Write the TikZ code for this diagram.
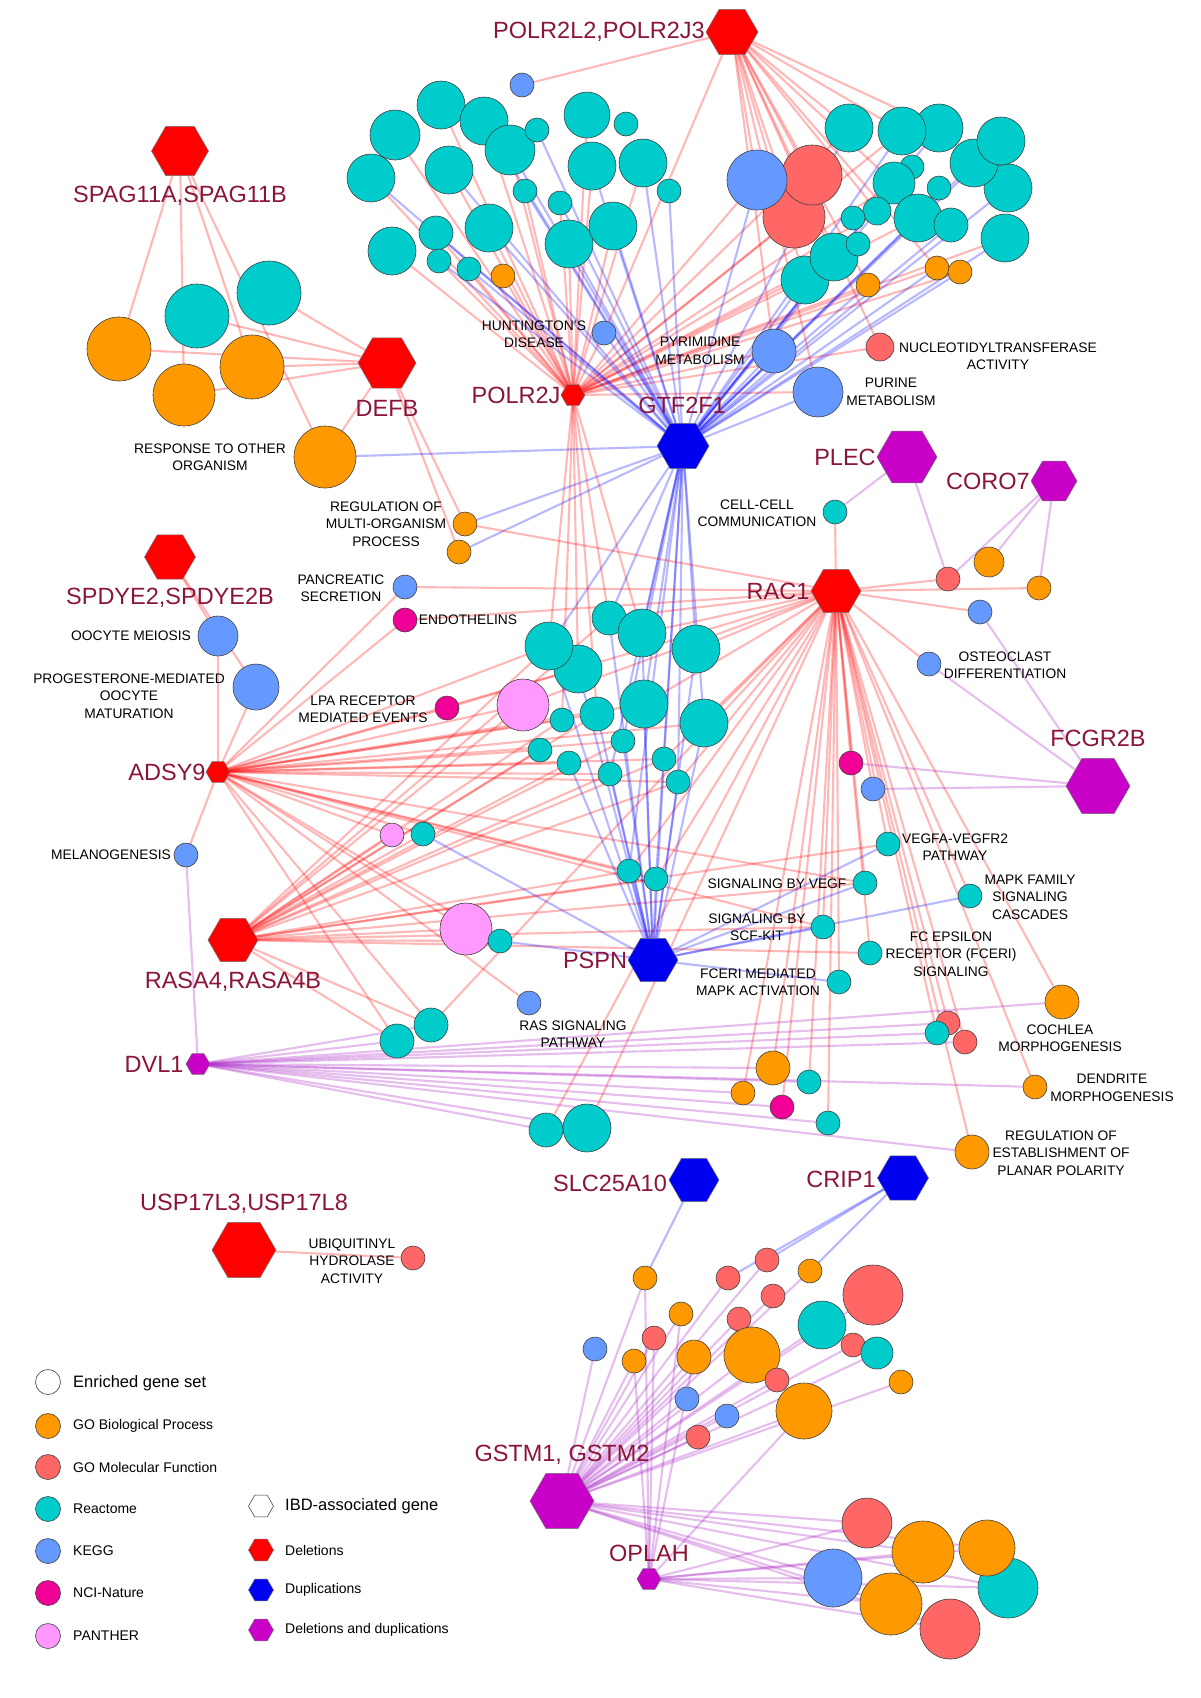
\documentclass[tikz,border=0pt]{standalone}
\usepackage{fontspec}
\setmainfont{Liberation Sans}
\usetikzlibrary{shapes.geometric}
\pgfdeclarelayer{edgelayer}
\pgfsetlayers{edgelayer,main}
\definecolor{cteal}{RGB}{0,204,204}
\definecolor{corange}{RGB}{255,153,0}
\definecolor{csalmon}{RGB}{255,102,102}
\definecolor{ckegg}{RGB}{102,153,255}
\definecolor{cnci}{RGB}{240,0,150}
\definecolor{cpanther}{RGB}{255,153,255}
\definecolor{hred}{RGB}{255,0,0}
\definecolor{hblue}{RGB}{0,0,240}
\definecolor{hpurple}{RGB}{200,0,200}
\definecolor{glab}{RGB}{139,21,56}
\definecolor{epurple}{RGB}{170,40,200}
\tikzset{
 gset/.style={circle, draw=black!75, line width=0.6pt, inner sep=0pt, outer sep=0pt},
 gene/.style={regular polygon, regular polygon sides=6, draw=black!55, line width=0.5pt, inner sep=0pt, outer sep=0pt},
 glabel/.style={text=glab, font=\fontsize{23.5}{26}\selectfont, inner sep=0pt},
 ann/.style={font=\fontsize{13.8}{17.5}\selectfont, align=center, inner sep=0pt},
 legs/.style={font=\fontsize{14}{16}\selectfont, anchor=west, inner sep=0pt},
 legb/.style={font=\fontsize{16.5}{18}\selectfont, anchor=west, inner sep=0pt},
 redge/.style={draw=red, opacity=0.28, line width=2.1pt},
 bedge/.style={draw=blue, opacity=0.28, line width=2.1pt},
 pedge/.style={draw=epurple, opacity=0.3, line width=2.1pt},
}
\newcommand{\gsnode}[5]{\node[gset, fill=#5, minimum size=#4*2pt] (#1) at (#2,#3) {};}
\newcommand{\genenode}[5]{\node[gene, fill=#5, minimum size=#4*2pt] (#1) at (#2,#3) {};}
\begin{document}
\begin{tikzpicture}[x=1pt,y=-1pt]
\useasboundingbox (0,0) rectangle (1200,1698);
% ---------- upper left cluster
\gsnode{L1}{395}{135}{25}{cteal}
\gsnode{L2}{441}{105}{24}{cteal}
\gsnode{L3}{484}{121}{24}{cteal}
\gsnode{L4}{510}{150}{25}{cteal}
\gsnode{L5}{537}{130}{12}{cteal}
\gsnode{L6}{371}{178}{24}{cteal}
\gsnode{L7}{449}{170}{24}{cteal}
\gsnode{L8}{587}{115}{23}{cteal}
\gsnode{L9}{626}{124}{12}{cteal}
\gsnode{L10}{592}{166}{24}{cteal}
\gsnode{L11}{643}{163}{24}{cteal}
\gsnode{L12}{525}{191}{12}{cteal}
\gsnode{L13}{560}{203}{12}{cteal}
\gsnode{L14}{669}{191}{12}{cteal}
\gsnode{L15}{392}{251}{24}{cteal}
\gsnode{L16}{436}{233}{17}{cteal}
\gsnode{L17}{439}{261}{12}{cteal}
\gsnode{L18}{469}{269}{12}{cteal}
\gsnode{L19}{489}{228}{24}{cteal}
\gsnode{L20}{503}{276}{12}{corange}
\gsnode{L21}{569}{244}{24}{cteal}
\gsnode{L22}{613}{226}{24}{cteal}
\gsnode{Lb}{522}{85}{12}{ckegg}
% ---------- upper right cluster
\gsnode{R3}{794}{217}{31}{csalmon}
\gsnode{R2}{812}{175}{30}{csalmon}
\gsnode{R1}{757}{180}{30}{ckegg}
\gsnode{R4}{849}{128}{24}{cteal}
\gsnode{R6}{939}{128}{24}{cteal}
\gsnode{R5}{902}{131}{24}{cteal}
\gsnode{R9}{1008}{188}{24}{cteal}
\gsnode{R8}{974}{163}{24}{cteal}
\gsnode{R7}{1001}{141}{24}{cteal}
\gsnode{R10}{912}{167}{12}{cteal}
\gsnode{R11}{894}{183}{21}{cteal}
\gsnode{R12}{939}{188}{12}{cteal}
\gsnode{R13}{877}{211}{14}{cteal}
\gsnode{R14}{853}{218}{12}{cteal}
\gsnode{R15}{918}{218}{24}{cteal}
\gsnode{R16}{951}{225}{17}{cteal}
\gsnode{R17}{1005}{238}{24}{cteal}
\gsnode{R20}{805}{280}{24}{cteal}
\gsnode{R19}{834}{257}{24}{cteal}
\gsnode{R18}{858}{244}{12}{cteal}
\gsnode{R21}{868}{285}{12}{corange}
\gsnode{R22}{937}{268}{12}{corange}
\gsnode{R23}{960}{272}{12}{corange}
\gsnode{Nuc}{880}{347}{14}{csalmon}
\gsnode{Hunt}{604}{333}{12}{ckegg}
\gsnode{Pyr}{774}{351}{22}{ckegg}
\gsnode{Pur}{818}{392}{25}{ckegg}
% ---------- left cluster
\gsnode{S1}{197}{316}{32}{cteal}
\gsnode{S2}{269}{293}{32}{cteal}
\gsnode{S3}{119}{349}{32}{corange}
\gsnode{S4}{184}{395}{31}{corange}
\gsnode{S5}{252}{367}{32}{corange}
\gsnode{Resp}{325}{457}{31}{corange}
\gsnode{Reg1}{465}{524}{12}{corange}
\gsnode{Reg2}{459}{552}{12}{corange}
\gsnode{Pan}{405}{587}{12}{ckegg}
\gsnode{End}{405}{620}{12}{cnci}
\gsnode{Ooc}{218}{636}{20}{ckegg}
\gsnode{Pro}{256}{687}{23}{ckegg}
\gsnode{Lpa}{447}{708}{12}{cnci}
\gsnode{Mel}{186}{855}{12}{ckegg}
\gsnode{Ubi}{413}{1258}{12}{csalmon}
% ---------- middle cluster
\gsnode{M1}{609}{618}{17}{cteal}
\gsnode{M2}{642}{633}{24}{cteal}
\gsnode{M3}{696}{649}{24}{cteal}
\gsnode{M5}{578}{669}{24}{cteal}
\gsnode{M4}{549}{646}{24}{cteal}
\gsnode{Pk1}{523}{705}{26}{cpanther}
\gsnode{M6}{562}{720}{12}{cteal}
\gsnode{M7}{597}{714}{17}{cteal}
\gsnode{M8}{644}{704}{24}{cteal}
\gsnode{M9}{704}{723}{24}{cteal}
\gsnode{M10}{623}{741}{12}{cteal}
\gsnode{M11}{540}{750}{12}{cteal}
\gsnode{M12}{569}{763}{12}{cteal}
\gsnode{M13}{610}{774}{12}{cteal}
\gsnode{M14}{664}{759}{12}{cteal}
\gsnode{M15}{678}{782}{12}{cteal}
\gsnode{M16}{423}{834}{12}{cteal}
\gsnode{Pk2}{392}{835}{12}{cpanther}
\gsnode{M17}{629}{871}{12}{cteal}
\gsnode{M18}{656}{879}{12}{cteal}
\gsnode{Pk3}{466}{929}{26}{cpanther}
\gsnode{M19}{500}{941}{12}{cteal}
\gsnode{Ras}{529}{1003}{12}{ckegg}
\gsnode{M21}{397}{1041}{17}{cteal}
\gsnode{M20}{431}{1025}{17}{cteal}
\gsnode{M22}{546}{1130}{17}{cteal}
\gsnode{M23}{587}{1128}{24}{cteal}
% ---------- right middle
\gsnode{Cell}{835}{512}{12}{cteal}
\gsnode{Sal1}{948}{579}{12}{csalmon}
\gsnode{Or1}{989}{562}{15}{corange}
\gsnode{Or2}{1039}{588}{12}{corange}
\gsnode{Bl1}{980}{612}{12}{ckegg}
\gsnode{Ost}{929}{664}{12}{ckegg}
\gsnode{Mg1}{851}{763}{12}{cnci}
\gsnode{Bl2}{873}{789}{12}{ckegg}
\gsnode{Vegfa}{888}{844}{12}{cteal}
\gsnode{Vegf}{865}{883}{12}{cteal}
\gsnode{Scf}{823}{927}{12}{cteal}
\gsnode{Fceri}{839}{982}{12}{cteal}
\gsnode{Mapk}{970}{896}{12}{cteal}
\gsnode{Fce}{870}{953}{12}{cteal}
\gsnode{Coch}{1062}{1002}{17}{corange}
\gsnode{Sal2}{948}{1023}{12}{csalmon}
\gsnode{Te2}{937}{1033}{12}{cteal}
\gsnode{Sal3}{965}{1042}{12}{csalmon}
\gsnode{Den}{1035}{1087}{12}{corange}
\gsnode{Plan}{972}{1152}{17}{corange}
\gsnode{Or3}{773}{1068}{17}{corange}
\gsnode{Or4}{743}{1093}{12}{corange}
\gsnode{Mg2}{782}{1107}{12}{cnci}
\gsnode{Te3}{809}{1082}{12}{cteal}
\gsnode{Te4}{828}{1123}{12}{cteal}
% ---------- bottom cluster
\gsnode{B1}{645}{1278}{12}{corange}
\gsnode{B2}{728}{1278}{12}{csalmon}
\gsnode{B3}{767}{1260}{12}{csalmon}
\gsnode{B4}{810}{1271}{12}{corange}
\gsnode{B5}{873}{1295}{30}{csalmon}
\gsnode{B6}{773}{1296}{12}{csalmon}
\gsnode{B7}{681}{1314}{12}{corange}
\gsnode{B8}{739}{1319}{12}{csalmon}
\gsnode{B9}{654}{1338}{12}{csalmon}
\gsnode{B10}{595}{1349}{12}{ckegg}
\gsnode{B11}{822}{1325}{24}{cteal}
\gsnode{B12}{853}{1345}{12}{csalmon}
\gsnode{B13}{877}{1353}{16}{cteal}
\gsnode{B14}{634}{1361}{12}{corange}
\gsnode{B15}{694}{1357}{17}{corange}
\gsnode{B16}{752}{1355}{28}{corange}
\gsnode{B17}{777}{1380}{12}{csalmon}
\gsnode{B18}{901}{1382}{12}{corange}
\gsnode{B19}{687}{1399}{12}{ckegg}
\gsnode{B20}{727}{1416}{12}{ckegg}
\gsnode{B21}{804}{1411}{28}{corange}
\gsnode{B22}{698}{1437}{12}{csalmon}
\gsnode{C4}{1008}{1588}{30}{cteal}
\gsnode{C1}{867}{1523}{25}{csalmon}
\gsnode{C2}{923}{1552}{31}{corange}
\gsnode{C3}{987}{1548}{28}{corange}
\gsnode{C5}{833}{1578}{29}{ckegg}
\gsnode{C6}{891}{1604}{31}{corange}
\gsnode{C7}{950}{1629}{30}{csalmon}
% ---------- genes
\genenode{SPAG}{180}{151}{28.5}{hred}
\genenode{POLRL}{732}{32}{26}{hred}
\genenode{DEFB}{387}{363}{29}{hred}
\genenode{POLRJ}{573}{395}{12}{hred}
\genenode{GTF}{683}{446}{26}{hblue}
\genenode{PLEC}{907}{457}{30}{hpurple}
\genenode{CORO}{1054}{481}{23}{hpurple}
\genenode{SPDY}{170}{557}{25.5}{hred}
\genenode{RAC}{836}{591}{25}{hred}
\genenode{ADSY}{218}{772}{12}{hred}
\genenode{FCGR}{1098}{786}{32}{hpurple}
\genenode{RASA}{233}{940}{25}{hred}
\genenode{PSPN}{653}{960}{25}{hblue}
\genenode{DVL}{198}{1064}{12}{hpurple}
\genenode{SLC}{694}{1180}{25}{hblue}
\genenode{CRIP}{903}{1178}{25.5}{hblue}
\genenode{USP}{244}{1250}{32}{hred}
\genenode{GSTM}{562}{1501}{32}{hpurple}
\genenode{OPLAH}{649}{1579}{12}{hpurple}
% ---------- gene labels
\node[glabel] (tSPAG) at (180,196) {SPAG11A,SPAG11B};
\node[glabel] (tPOLRL) at (599,32) {POLR2L2,POLR2J3};
\node[glabel] (tDEFB) at (387,408) {DEFB};
\node[glabel] (tPOLRJ) at (516,395) {POLR2J};
\node[glabel] (tGTF) at (682,405) {GTF2F1};
\node[glabel] (tPLEC) at (845,457) {PLEC};
\node[glabel] (tCORO) at (988,481) {CORO7};
\node[glabel] (tSPDY) at (170,598) {SPDYE2,SPDYE2B};
\node[glabel] (tRAC) at (778,591) {RAC1};
\node[glabel] (tADSY) at (167,772) {ADSY9};
\node[glabel] (tFCGR) at (1098,738) {FCGR2B};
\node[glabel] (tRASA) at (233,982) {RASA4,RASA4B};
\node[glabel] (tPSPN) at (595,960) {PSPN};
\node[glabel] (tDVL) at (154,1064) {DVL1};
\node[glabel] (tSLC) at (610,1183) {SLC25A10};
\node[glabel] (tCRIP) at (841,1179) {CRIP1};
\node[glabel] (tUSP) at (244,1204) {USP17L3,USP17L8};
\node[glabel] (tGSTM) at (562,1455) {GSTM1, GSTM2};
\node[glabel] (tOPLAH) at (649,1553) {OPLAH};
% ---------- annotation labels
\node[ann] (aHunt) at (534,334) {HUNTINGTON'S\\DISEASE};
\node[ann] (aPyr) at (700,351) {PYRIMIDINE\\METABOLISM};
\node[ann] (aNuc) at (998,356) {NUCLEOTIDYLTRANSFERASE\\ACTIVITY};
\node[ann] (aPur) at (891,392) {PURINE\\METABOLISM};
\node[ann] (aResp) at (210,457) {RESPONSE TO OTHER\\ORGANISM};
\node[ann] (aReg) at (386,524) {REGULATION OF\\MULTI-ORGANISM\\PROCESS};
\node[ann] (aCell) at (757,513) {CELL-CELL\\COMMUNICATION};
\node[ann] (aPan) at (341,588) {PANCREATIC\\SECRETION};
\node[ann] (aEnd) at (468,620) {ENDOTHELINS};
\node[ann] (aOoc) at (131,636) {OOCYTE MEIOSIS};
\node[ann] (aPro) at (129,696) {PROGESTERONE-MEDIATED\\OOCYTE\\MATURATION};
\node[ann] (aLpa) at (363,709) {LPA RECEPTOR\\MEDIATED EVENTS};
\node[ann] (aOst) at (1005,665) {OSTEOCLAST\\DIFFERENTIATION};
\node[ann] (aMel) at (111,855) {MELANOGENESIS};
\node[ann] (aVegfa) at (955,847) {VEGFA-VEGFR2\\PATHWAY};
\node[ann] (aVegf) at (777,884) {SIGNALING BY VEGF};
\node[ann] (aScf) at (757,927) {SIGNALING BY\\SCF-KIT};
\node[ann] (aFceri) at (758,982) {FCERI MEDIATED\\MAPK ACTIVATION};
\node[ann] (aMapk) at (1030,897) {MAPK FAMILY\\SIGNALING\\CASCADES};
\node[ann] (aFce) at (951,954) {FC EPSILON\\RECEPTOR (FCERI)\\SIGNALING};
\node[ann] (aRas) at (573,1034) {RAS SIGNALING\\PATHWAY};
\node[ann] (aCoch) at (1060,1038) {COCHLEA\\MORPHOGENESIS};
\node[ann] (aDen) at (1112,1088) {DENDRITE\\MORPHOGENESIS};
\node[ann] (aPlan) at (1061,1153) {REGULATION OF\\ESTABLISHMENT OF\\PLANAR POLARITY};
\node[ann] (aUbi) at (352,1261) {UBIQUITINYL\\HYDROLASE\\ACTIVITY};
% ---------- legend
\node[gset, fill=white, minimum size=25pt] (lg0) at (48,1382) {};
\node[legb] (lt0) at (73,1383) {Enriched gene set};
\node[gset, fill=corange, minimum size=25pt] (lg1) at (48,1426) {};
\node[legs] (lt1) at (73,1426) {GO Biological Process};
\node[gset, fill=csalmon, minimum size=25pt] (lg2) at (48,1467) {};
\node[legs] (lt2) at (73,1467) {GO Molecular Function};
\node[gset, fill=cteal, minimum size=25pt] (lg3) at (48,1509) {};
\node[legs] (lt3) at (73,1509) {Reactome};
\node[gset, fill=ckegg, minimum size=25pt] (lg4) at (48,1551) {};
\node[legs] (lt4) at (73,1551) {KEGG};
\node[gset, fill=cnci, minimum size=25pt] (lg5) at (48,1593) {};
\node[legs] (lt5) at (73,1593) {NCI-Nature};
\node[gset, fill=cpanther, minimum size=25pt] (lg6) at (48,1636) {};
\node[legs] (lt6) at (73,1636) {PANTHER};
\node[gene, draw=black!80, fill=white, minimum size=25pt] (lh0) at (261,1506) {};
\node[legb] (lu0) at (285,1506) {IBD-associated gene};
\node[gene, fill=hred, minimum size=25pt] (lh1) at (261,1550) {};
\node[legs] (lu1) at (285,1550) {Deletions};
\node[gene, fill=hblue, minimum size=25pt] (lh2) at (261,1590) {};
\node[legs] (lu2) at (285,1590) {Duplications};
\node[gene, fill=hpurple, minimum size=25pt] (lh3) at (261,1630) {};
\node[legs] (lu3) at (285,1630) {Deletions and duplications};
% ---------- edges
\begin{pgfonlayer}{edgelayer}
\fill[white] (0,0) rectangle (1200,1698);
\foreach \t in {S3,S4,S5,Resp} \draw[redge] (SPAG) -- (\t);
\foreach \t in {S1,S2,S3,S4,S5,Resp,Reg1,Reg2} \draw[redge] (DEFB) -- (\t);
\foreach \t in {Ooc,Pro} \draw[redge] (SPDY) -- (\t);
\foreach \t in {L1,L2,L3,L4,L6,L7,L8,L10,L11,L12,L13,L15,L16,L17,L18,L19,L20,L21,L22,Hunt,R1,R3,R4,R5,R11,R13,R15,R17,R19,R20,R21,R22,R23,Pyr,Pur,Nuc,M1,M2,M4,M5,M6,M7}
  \draw[redge] (POLRJ) -- (\t);
\foreach \t in {L3,L4,L5,L6,L7,L10,L11,L12,L13,L14,L16,L17,L18,L19,L21,L22,Hunt,R1,R4,R5,R6,R7,R8,R9,R11,R13,R15,R16,R17,R19,R20,R21,R22,R23,Pyr,Pur,Resp,Reg1,Reg2,M1,M2,M3,M4,M8,M9,M10,M13,M14,M15,M17,M18}
  \draw[bedge] (GTF) -- (\t);
\foreach \t in {Lb,R1,R2,R3,R4,R5,R6,R11,R13,R19,R20,R21,R22,Hunt,Pyr,Pur,Nuc}
  \draw[redge] (POLRL) -- (\t);
\foreach \t in {Cell,Pan,End,Reg1,Lpa,Sal1,Or2,Bl1,Ost,Mg1,Bl2,Vegfa,Vegf,Scf,Fceri,Fce,Mapk,Coch,Sal2,Te2,Sal3,Den,Plan,Or3,Or4,Mg2,Te3,Te4,M1,M2,M3,M8,M9,M14,M15,M17,M18,M20,M22,M23,Pk1}
  \draw[redge] (RAC) -- (\t);
\foreach \t in {Ooc,Pro,Mel,Pan,End,Lpa,Pk1,M4,M5,M6,M7,M8,M9,M10,M11,M12,M13,M14,M15,Pk2,M16,Pk3,M17,M18,M19,M20,M21,Vegf,Scf,Ras}
  \draw[redge] (ADSY) -- (\t);
\foreach \t in {Pk1,M1,M4,M6,M7,M10,M11,M12,M13,M14,M15,Pk2,M16,Pk3,M17,M18,M19,M20,M21,Vegf,Vegfa,Scf,Fce}
  \draw[redge] (RASA) -- (\t);
\foreach \t in {M1,M2,M3,M4,M5,M7,M8,M9,M10,M12,M13,M14,M15,M16,M17,M18,M19,Vegfa,Vegf,Scf,Mapk,Fceri}
  \draw[bedge] (PSPN) -- (\t);
\foreach \t in {Mel,M20,M21,M22,M23,Te3,Te4,Or3,Or4,Mg2,Sal2,Te2,Sal3,Coch,Den,Plan}
  \draw[pedge] (DVL) -- (\t);
\foreach \t in {Cell,Sal1} \draw[pedge] (PLEC) -- (\t);
\foreach \t in {Sal1,Or1,Or2} \draw[pedge] (CORO) -- (\t);
\foreach \t in {Bl1,Ost,Mg1,Bl2} \draw[pedge] (FCGR) -- (\t);
\draw[redge] (USP) -- (Ubi);
\draw[bedge] (SLC) -- (B1);
\foreach \t in {B2,B3,B4} \draw[bedge] (CRIP) -- (\t);
\foreach \t in {B1,B2,B3,B4,B5,B6,B7,B8,B9,B10,B11,B12,B13,B14,B15,B16,B17,B18,B19,B20,B21,B22,C1,C2,C3,C4,C5,C6,C7}
  \draw[pedge] (GSTM) -- (\t);
\foreach \t in {B1,B7,B9,B14,B15,B21,C1,C2,C3,C4,C5,C6,C7}
  \draw[pedge] (OPLAH) -- (\t);
\end{pgfonlayer}
\end{tikzpicture}
\end{document}
